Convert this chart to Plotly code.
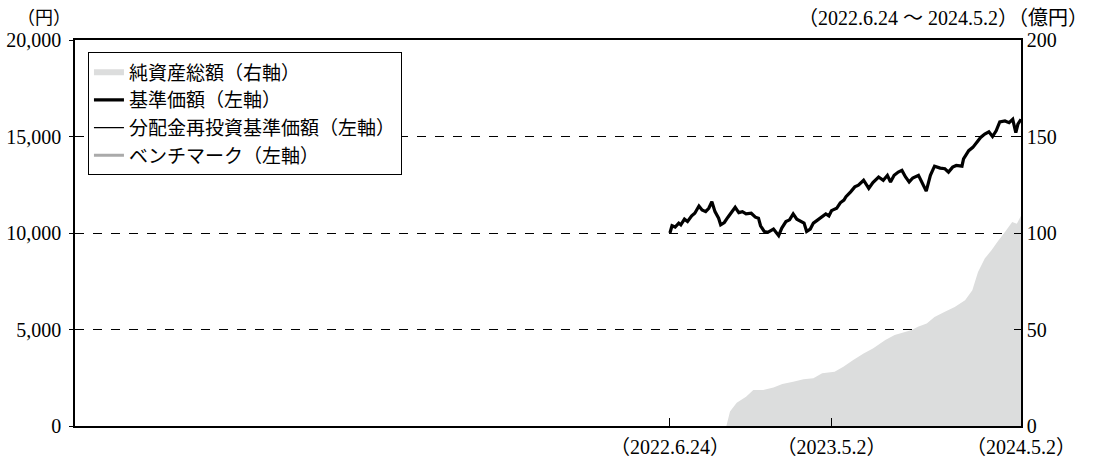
import plotly.graph_objects as go

# ---- data ----
nav_dates = ["2022-06-24", "2022-06-28", "2022-07-04", "2022-07-11", "2022-07-15", "2022-07-22",
             "2022-07-28", "2022-08-05", "2022-08-11", "2022-08-19", "2022-08-25", "2022-09-01",
             "2022-09-07", "2022-09-13", "2022-09-19", "2022-09-26", "2022-09-30", "2022-10-07",
             "2022-10-14", "2022-10-20", "2022-10-28", "2022-11-04", "2022-11-11", "2022-11-18",
             "2022-11-28", "2022-12-06", "2022-12-12", "2022-12-16", "2022-12-23", "2022-12-30",
             "2023-01-10", "2023-01-16", "2023-01-20", "2023-01-26", "2023-02-03", "2023-02-10",
             "2023-02-17", "2023-02-24", "2023-03-03", "2023-03-10", "2023-03-15", "2023-03-22",
             "2023-03-28", "2023-04-05", "2023-04-12", "2023-04-21", "2023-04-27", "2023-05-02",
             "2023-05-12", "2023-05-19", "2023-05-26", "2023-05-30", "2023-06-08", "2023-06-16",
             "2023-06-23", "2023-07-03", "2023-07-13", "2023-07-21", "2023-08-01", "2023-08-10",
             "2023-08-18", "2023-08-24", "2023-08-31", "2023-09-08", "2023-09-15", "2023-09-22",
             "2023-09-29", "2023-10-06", "2023-10-17", "2023-10-24", "2023-11-01", "2023-11-09",
             "2023-11-17", "2023-11-28", "2023-12-07", "2023-12-14", "2023-12-22", "2023-12-29",
             "2024-01-09", "2024-01-12", "2024-01-22", "2024-01-30", "2024-02-06", "2024-02-14",
             "2024-02-22", "2024-03-01", "2024-03-08", "2024-03-15", "2024-03-22", "2024-04-01",
             "2024-04-09", "2024-04-16", "2024-04-22", "2024-04-26", "2024-05-02"]
nav_values = [10000, 10374, 10307, 10512, 10425, 10717,
              10594, 10886, 11024, 11398, 11193, 11106,
              11280, 11618, 11106, 10768, 10425, 10543,
              10819, 11024, 11331, 11055, 11106, 10988,
              11024, 10819, 10768, 10374, 10082, 10031,
              10205, 10000, 9862, 10256, 10594, 10681,
              10988, 10717, 10594, 10512, 10082, 10205,
              10512, 10681, 10819, 10988, 10886, 11157,
              11280, 11567, 11705, 11877, 12133, 12390,
              12476, 12732, 12307, 12614, 12901, 12732,
              12988, 12645, 12988, 13157, 13244, 12901,
              12645, 12850, 12988, 12645, 12170, 12988,
              13464, 13362, 13331, 13157, 13413, 13500,
              13464, 13843, 14268, 14437, 14693, 14949,
              15123, 15241, 15000, 15292, 15753, 15804,
              15717, 15891, 15205, 15635, 15891]
reinvest_values = list(nav_values)

asset_dates = ["2022-10-11", "2022-10-18", "2022-10-31", "2022-11-18", "2022-12-02", "2022-12-21",
               "2023-01-10", "2023-01-27", "2023-02-17", "2023-03-09", "2023-03-28", "2023-04-14",
               "2023-05-08", "2023-05-25", "2023-06-13", "2023-07-03", "2023-07-21", "2023-08-14",
               "2023-09-01", "2023-10-04", "2023-10-16", "2023-11-02", "2023-11-17", "2023-12-06",
               "2023-12-26", "2024-01-15", "2024-01-29", "2024-02-09", "2024-02-22", "2024-03-06",
               "2024-03-19", "2024-04-01", "2024-04-15", "2024-04-24", "2024-05-02"]
asset_values = [0, 7.5, 12, 15.2, 18.6, 18.6,
                20, 21.7, 22.9, 24.2, 24.7, 27.3,
                28.1, 30.7, 34.2, 37.6, 40.2, 44.5,
                47.1, 49.7, 51.4, 53.1, 56.5, 59.1,
                61.7, 65.2, 70.4, 79.8, 86.8, 91,
                96, 100.5, 105.7, 104.8, 109]

x_tick_dates = ["2022-06-24", "2023-05-02", "2024-05-02"]
x_tick_text = ["（2022.6.24）", "（2023.5.2）", "（2024.5.2）"]
x_range = ["2019-05-02", "2024-05-02"]
left_ticks = [0, 5000, 10000, 15000, 20000]
right_ticks = [0, 50, 100, 150, 200]

FONT = "Liberation Serif, Noto Sans CJK JP, serif"

fig = go.Figure()
fig.add_trace(go.Scatter(x=asset_dates, y=asset_values, yaxis="y2", mode="none",
                         fill="tozeroy", fillcolor="#dcdddd", name="純資産総額（右軸）"))
fig.add_trace(go.Scatter(x=nav_dates, y=nav_values, mode="lines",
                         line=dict(color="black", width=3.2), name="基準価額（左軸）"))
fig.add_trace(go.Scatter(x=nav_dates, y=reinvest_values, mode="lines",
                         line=dict(color="black", width=1.2), name="分配金再投資基準価額（左軸）"))
fig.add_trace(go.Scatter(x=[None], y=[None], mode="lines",
                         line=dict(color="#aaaaaa", width=3), name="ベンチマーク（左軸）"))

fig.update_layout(
    width=1094, height=460,
    margin=dict(l=75, r=73, t=40, b=34, autoexpand=False),
    paper_bgcolor="white", plot_bgcolor="white",
    font=dict(family=FONT, size=20, color="black"),
    showlegend=True,
    legend=dict(x=0.0137, y=0.968, xanchor="left", yanchor="top",
                bordercolor="black", borderwidth=1, bgcolor="white",
                font=dict(size=19, family=FONT), tracegroupgap=0),
    xaxis=dict(type="date", range=x_range, tickvals=x_tick_dates, ticktext=x_tick_text,
               ticks="inside", ticklen=8, tickcolor="black", showgrid=False,
               showline=True, linecolor="black", linewidth=1.5, mirror=True,
               tickfont=dict(size=20), zeroline=False, automargin=False,
               ticklabelstandoff=2),
    yaxis=dict(range=[0, 20000], tickvals=left_ticks, tickformat=",",
               ticks="outside", ticklen=4, tickcolor="black", ticklabelstandoff=4,
               showgrid=True, gridcolor="black", griddash="dash", gridwidth=1,
               showline=True, linecolor="black", linewidth=1.5, zeroline=False,
               tickfont=dict(size=20), automargin=False),
    yaxis2=dict(range=[0, 200], tickvals=right_ticks, overlaying="y", side="right",
                ticks="inside", ticklen=7, tickcolor="black", showgrid=False,
                showline=True, linecolor="black", linewidth=1.5, zeroline=False,
                tickfont=dict(size=20), automargin=False),
    annotations=[
        dict(text="（円）", xref="paper", yref="paper", x=-0.033, y=1.056,
             xanchor="center", yanchor="middle", showarrow=False, font=dict(size=18)),
        dict(text="（2022.6.24 ～ 2024.5.2）（億円）", xref="paper", yref="paper",
             x=1.073, y=1.056, xanchor="right", yanchor="middle", showarrow=False,
             font=dict(size=20)),
    ],
)

fig.write_html("out.html", config={"displayModeBar": False},
               post_script="document.body.style.margin='0';")
